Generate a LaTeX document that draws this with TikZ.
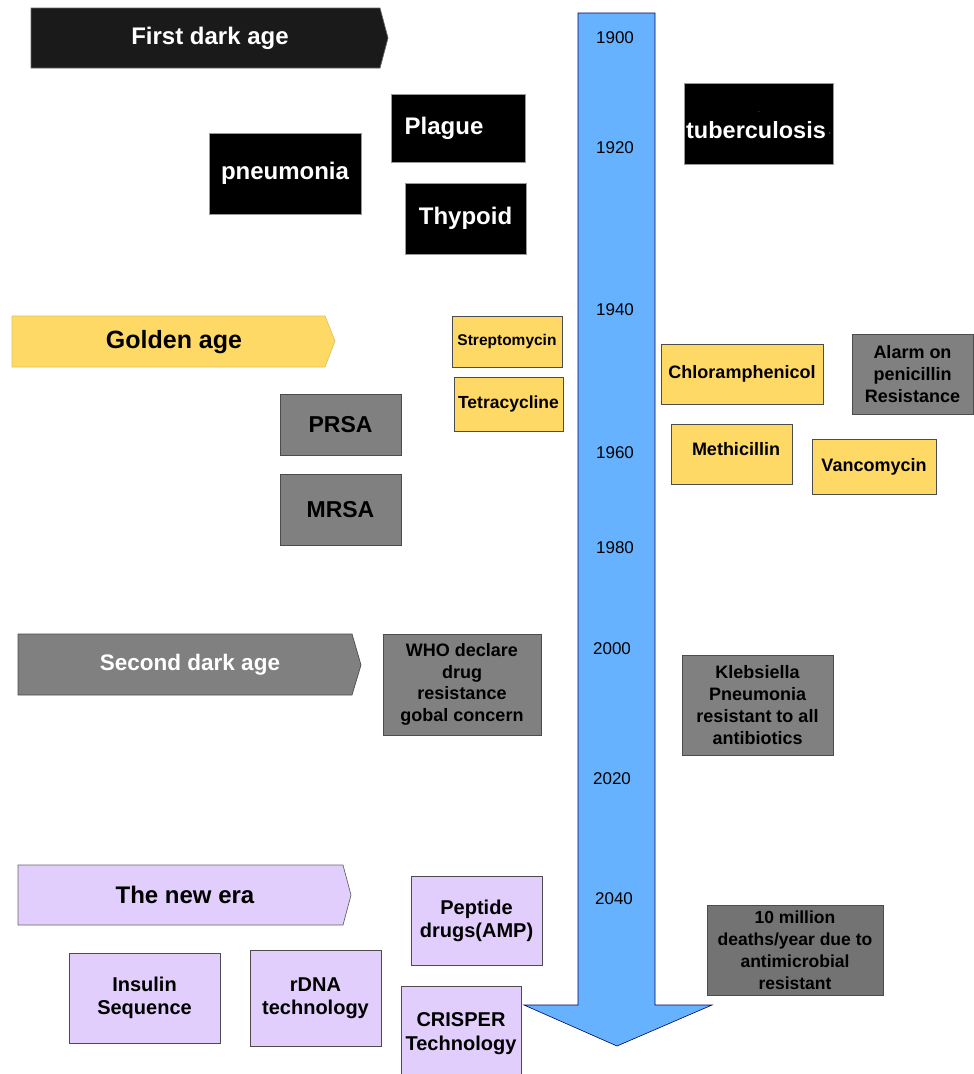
\documentclass[tikz,border=0pt]{standalone}
\usepackage{fontspec}
\setmainfont{Liberation Sans}
\definecolor{gold}{HTML}{FFD966}
\definecolor{greybox}{HTML}{808080}
\definecolor{lav}{HTML}{E2CEFC}
\definecolor{arrowblue}{HTML}{66B2FF}
\definecolor{nearblack}{HTML}{1A1A1A}
\tikzset{
  bx/.style={draw=black!70, line width=0.7pt, inner sep=0pt, align=center, font=\bfseries\fontsize{18}{22}\selectfont},
  blk/.style={bx, fill=black, text=white, draw=black!40, font=\bfseries\fontsize{24}{28}\selectfont},
  yel/.style={bx, fill=gold},
  gry/.style={bx, fill=greybox},
  prp/.style={bx, fill=lav, font=\bfseries\fontsize{20}{23}\selectfont},
  banner/.style={line width=0.7pt},
  btext/.style={font=\bfseries\fontsize{24}{28}\selectfont, inner sep=0pt},
  yr/.style={font=\fontsize{17}{20}\selectfont, inner sep=0pt},
  txt/.style={inner sep=0pt, align=center}
}
\begin{document}
\begin{tikzpicture}[x=1pt,y=-1pt]
\useasboundingbox (0,0) rectangle (974,1074);
\fill[white] (0,0) rectangle (974,1074);

% timeline arrow
\draw[fill=arrowblue, draw=black!60!blue, line width=0.6pt]
  (578,13) -- (655,13) -- (655,1005) -- (712,1005) -- (617,1046) -- (524,1005) -- (578,1005) -- cycle;
\node[yr] (y1900) at (615,38) {1900};
\node[yr] (y1920) at (615,148) {1920};
\node[yr] (y1940) at (615,310) {1940};
\node[yr] (y1960) at (615,453) {1960};
\node[yr] (y1980) at (615,548) {1980};
\node[yr] (y2000) at (612,649) {2000};
\node[yr] (y2020) at (612,779) {2020};
\node[yr] (y2040) at (614,899) {2040};

% banners
\draw[banner, fill=nearblack, draw=black!60] (31,8) -- (380,8) -- (388,38) -- (380,68) -- (31,68) -- cycle;
\node[btext, text=white] (first) at (210,38) {First dark age};
\draw[banner, fill=gold, draw=gold!90!black] (12,316) -- (325,316) -- (335,341) -- (325,367) -- (12,367) -- cycle;
\node[btext, font=\bfseries\fontsize{25}{29}\selectfont] (golden) at (174,342) {Golden age};
\draw[banner, fill=greybox, draw=black!70] (18,634) -- (352,634) -- (361,665) -- (352,695) -- (18,695) -- cycle;
\node[btext, text=white, font=\bfseries\fontsize{22.5}{26}\selectfont] (second) at (190,665) {Second dark age};
\draw[banner, fill=lav, draw=black!60] (18,865) -- (343,865) -- (351,895) -- (343,925) -- (18,925) -- cycle;
\node[btext] (newera) at (185,895) {The new era};

% first dark age boxes
\node[blk, minimum width=134, minimum height=68] (plague) at (458,128) {};
\node[txt, text=white, font=\bfseries\fontsize{24}{28}\selectfont] (plaguet) at (444,128) {Plague};
\node[blk, minimum width=152, minimum height=81] (pneu) at (285,173.5) {pneumonia};
\node[blk, minimum width=121, minimum height=71] (thyp) at (465.5,218.5) {Thypoid};
\node[blk, minimum width=149, minimum height=81] (tb) at (758.5,123.5) {};
\node[txt, text=white, font=\bfseries\fontsize{23.5}{28}\selectfont] (tbt) at (756,130) {tuberculosis};
\node[txt, text=white, font=\fontsize{6}{6}\selectfont] (tbc) at (830,134) {,};
\node[txt, text=white, font=\fontsize{5}{5}\selectfont] (tbd) at (759,112) {.};

% golden age boxes
\node[yel, minimum width=110, minimum height=51, font=\bfseries\fontsize{15.5}{18}\selectfont] (strep) at (507,341.5) {Streptomycin};
\node[yel, minimum width=109, minimum height=54, font=\bfseries\fontsize{17.5}{20}\selectfont] (tetra) at (508.5,404) {Tetracycline};
\node[gry, minimum width=121, minimum height=61, font=\bfseries\fontsize{23}{27}\selectfont] (prsa) at (340.5,424.5) {PRSA};
\node[gry, minimum width=121, minimum height=71, font=\bfseries\fontsize{23}{27}\selectfont] (mrsa) at (340.5,509.5) {MRSA};
\node[yel, minimum width=162, minimum height=60] (chlor) at (742,374) {Chloramphenicol};
\node[gry, minimum width=121, minimum height=80] (alarm) at (912.5,374) {Alarm on\\penicillin\\Resistance};
\node[yel, minimum width=121, minimum height=60] (meth) at (731.5,454) {};
\node[txt, font=\bfseries\fontsize{18}{22}\selectfont] (metht) at (736,449) {Methicillin};
\node[yel, minimum width=124, minimum height=55] (vanc) at (874,466.5) {Vancomycin};

% second dark age boxes
\node[gry, minimum width=158, minimum height=101, font=\bfseries\fontsize{18}{21.7}\selectfont] (who) at (462,684.5) {WHO declare\\drug\\resistance\\gobal concern};
\node[gry, minimum width=151, minimum height=100, font=\bfseries\fontsize{18}{22}\selectfont] (kleb) at (757.5,705) {Klebsiella\\Pneumonia\\resistant to all\\antibiotics};

% new era boxes
\node[prp, minimum width=131, minimum height=89] (pept) at (476.5,920.5) {Peptide\\drugs(AMP)};
\node[prp, minimum width=151, minimum height=90] (insul) at (144.5,998) {Insulin\\Sequence};
\node[prp, minimum width=131, minimum height=96] (rdna) at (315.5,998) {rDNA\\technology};
\node[prp, minimum width=120, minimum height=96, font=\bfseries\fontsize{20}{24}\selectfont] (crisp) at (461,1034) {CRISPER\\Technology};
\node[gry, fill=greybox!90!black, minimum width=176, minimum height=90, font=\bfseries\fontsize{17.5}{22}\selectfont] (tenm) at (795,950) {10 million\\deaths/year due to\\antimicrobial\\resistant};
\end{tikzpicture}
\end{document}
